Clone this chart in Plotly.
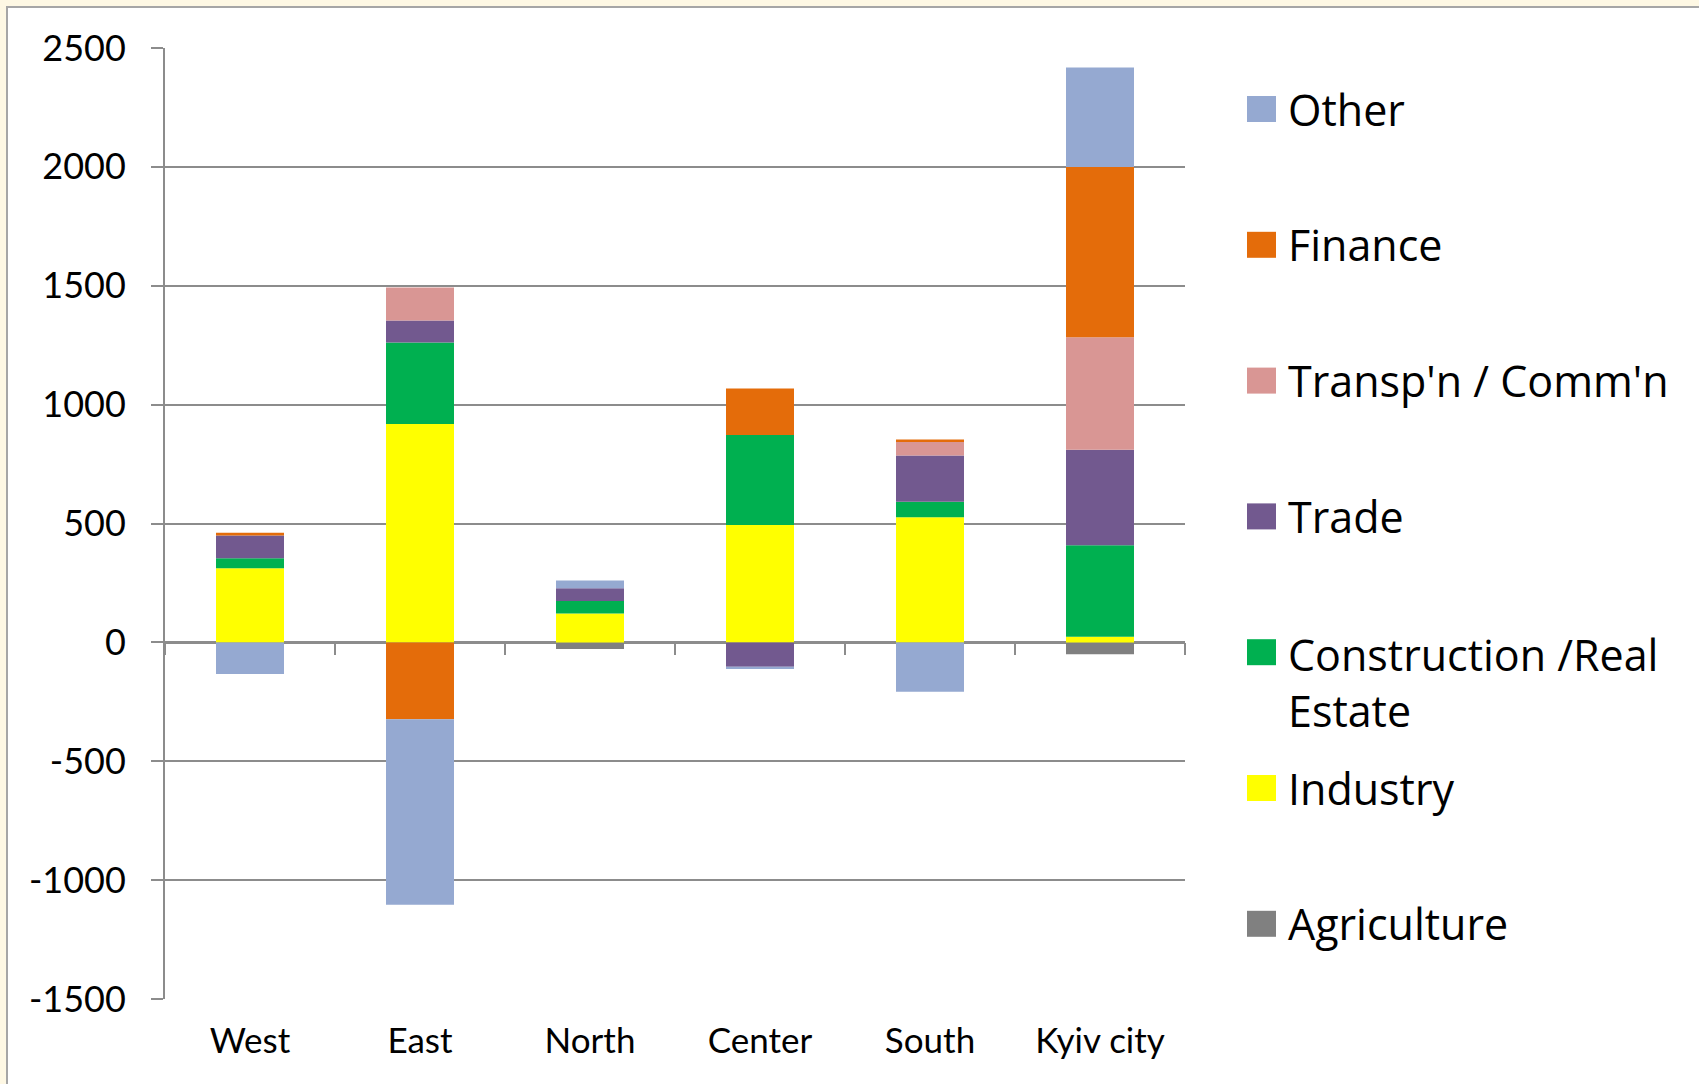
import plotly.graph_objects as go

# data
regions = ['West', 'East', 'North', 'Center', 'South', 'Kyiv city']
agriculture = [0, 0, -28, 0, 0, -50]
industry = [312, 918, 121, 494, 526, 24]
construction = [42, 343, 53, 378, 65, 384]
trade = [96, 93, 54, -103, 195, 402]
transp = [0, 139, 0, 0, 57, 473]
finance = [11, -323, 0, 196, 10, 717]
other = [-133, -781, 32, -9, -208, 418]

series_names = ['Agriculture', 'Industry', 'Construction /Real<br>Estate', 'Trade',
                "Transp'n / Comm'n", 'Finance', 'Other']
series_values = [agriculture, industry, construction, trade, transp, finance, other]
series_colors = ['#808080', '#FFFF00', '#00B050', '#72598F', '#D99694', '#E46C0A', '#95A9D1']

y_ticks = [-1500, -1000, -500, 0, 500, 1000, 1500, 2000, 2500]
y_ticktext = [str(v) for v in y_ticks]

W, H = 1699, 1084
ML, MR, MT, MB = 165, 514, 48, 85
PW, PH = W - ML - MR, H - MT - MB


def px_x(p):
    return (p - ML) / PW


def px_y(p):
    return (H - MB - p) / PH


GRID = '#8C8C8C'
FONT = 'Lato, Arial, sans-serif'

fig = go.Figure()
for name, vals, col in zip(series_names, series_values, series_colors):
    fig.add_trace(go.Bar(
        x=regions, y=vals, name=name,
        marker=dict(color=col, line=dict(width=0)),
        showlegend=False,
    ))

# helper trace so the category ticks on the zero line get their own axis
fig.add_trace(go.Scatter(x=regions, y=[0] * len(regions), xaxis='x2', mode='none',
                         showlegend=False, hoverinfo='skip'))

# hand-made legend (Excel style, big swatches, reversed order)
shapes = [dict(type='rect', xref='paper', yref='paper', layer='below',
               x0=px_x(7), x1=px_x(1750), y0=px_y(1120), y1=px_y(7),
               fillcolor='white', line=dict(color='#A6A6A6', width=2))]
annotations = []
legend_names = list(reversed(series_names))
legend_colors = list(reversed(series_colors))
for i, (name, col) in enumerate(zip(legend_names, legend_colors)):
    cy = 109 + i * 135.8
    shapes.append(dict(type='rect', xref='paper', yref='paper',
                       x0=px_x(1247), x1=px_x(1276), y0=px_y(cy + 13), y1=px_y(cy - 13),
                       fillcolor=col, line=dict(width=0)))
    ty = cy + (30 if '<br>' in name else 0)
    annotations.append(dict(xref='paper', yref='paper', x=px_x(1286), y=px_y(ty),
                            xanchor='left', yanchor='middle', align='left',
                            text=name, showarrow=False,
                            font=dict(family='Open Sans, sans-serif', size=43, color='black')))

fig.update_layout(
    width=W, height=H,
    margin=dict(l=ML, r=MR, t=MT, b=MB),
    barmode='relative',
    bargap=0.6,
    paper_bgcolor='#FEF8E4',
    plot_bgcolor='white',
    font=dict(family=FONT, size=36, color='black'),
    shapes=shapes,
    annotations=annotations,
    xaxis=dict(
        type='category', categoryorder='array', categoryarray=regions,
        showline=False, ticks='', showgrid=False, zeroline=False,
        ticklabelstandoff=18,
        tickfont=dict(family=FONT, size=35),
    ),
    xaxis2=dict(
        type='category', categoryorder='array', categoryarray=regions,
        matches='x', overlaying='x', anchor='free', position=0.375,
        showline=False, showticklabels=False, showgrid=False,
        ticks='outside', tickson='boundaries', ticklen=12, tickwidth=2, tickcolor=GRID,
    ),
    yaxis=dict(
        range=[-1500, 2500], tickvals=y_ticks, ticktext=y_ticktext,
        showgrid=True, gridcolor=GRID, gridwidth=2,
        zeroline=True, zerolinecolor=GRID, zerolinewidth=3,
        showline=True, linecolor=GRID, linewidth=2,
        ticks='outside', ticklen=12, tickwidth=2, tickcolor=GRID,
        ticklabelstandoff=18,
        tickfont=dict(family=FONT, size=36),
    ),
)

# drop the default page margin so the figure sits at the window corner
fig.write_html('out.html', config={'displayModeBar': False},
               post_script="document.body.style.margin='0';")
